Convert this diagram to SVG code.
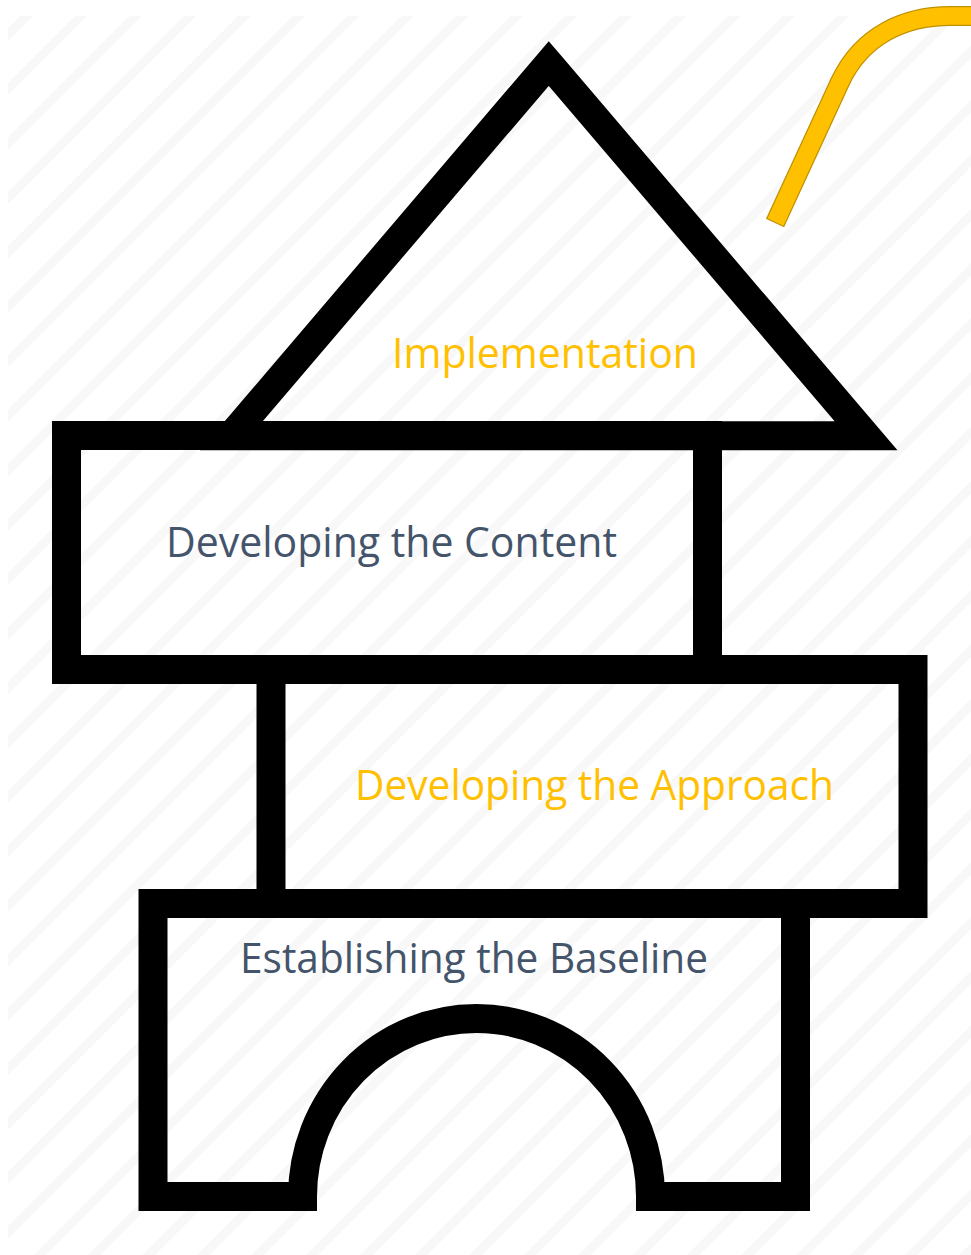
<svg xmlns="http://www.w3.org/2000/svg" width="971" height="1255" viewBox="0 0 971 1255">
  <defs>
    <!-- faint diagonal hatching for the page background -->
    <pattern id="hatch" patternUnits="userSpaceOnUse" width="38.5" height="20" patternTransform="rotate(45)">
      <rect x="25.6" y="0" width="9" height="20" fill="#f8f8f8"/>
    </pattern>
    <style>
      .block { fill: none; stroke: #000; stroke-width: 29; stroke-linejoin: miter; stroke-miterlimit: 10; }
      .label { font-family: "Open Sans", "Noto Sans", "Liberation Sans", sans-serif; font-size: 42px; }
      .gold { fill: #FFC000; }
      .slate { fill: #44546A; }
    </style>
  </defs>

  <rect x="0" y="0" width="971" height="1255" fill="#ffffff"/>
  <rect id="background" x="8" y="16" width="963" height="1239" fill="url(#hatch)"/>

  <!-- curved gold ribbon at the top right -->
  <g id="ribbon" fill="none" stroke-linecap="butt">
    <path d="M775,223 L840,82 C862,35 905,16 950,16 L980,16" stroke="#BF9000" stroke-width="20"/>
    <path d="M775.5,222 L840,82 C862,35 905,16 950,16 L980,16" stroke="#FFC000" stroke-width="17.5"/>
  </g>

  <g id="connectors"/>

  <!-- bottom block with arch -->
  <g id="node-baseline">
    <path class="block" d="M153,903.5 L795.5,903.5 L795.5,1196.5 L650.5,1196.5 A174,178 0 0 0 302.5,1196.5 L153,1196.5 Z"/>
    <text class="label slate" x="240" y="973" textLength="468" lengthAdjust="spacingAndGlyphs">Establishing the Baseline</text>
  </g>

  <!-- third block -->
  <g id="node-approach">
    <rect class="block" x="271" y="669.5" width="642" height="234"/>
    <text class="label gold" x="355" y="800" textLength="479" lengthAdjust="spacingAndGlyphs">Developing the Approach</text>
  </g>

  <!-- second block -->
  <g id="node-content">
    <rect class="block" x="66.5" y="435.5" width="641" height="234"/>
    <text class="label slate" x="166" y="557" textLength="451" lengthAdjust="spacingAndGlyphs">Developing the Content</text>
  </g>

  <!-- roof -->
  <g id="node-implementation">
    <path class="block" d="M548.75,63.5 L866.1,435.75 L231.4,435.75 Z"/>
    <text class="label gold" x="392" y="368" textLength="306" lengthAdjust="spacingAndGlyphs">Implementation</text>
  </g>
</svg>
